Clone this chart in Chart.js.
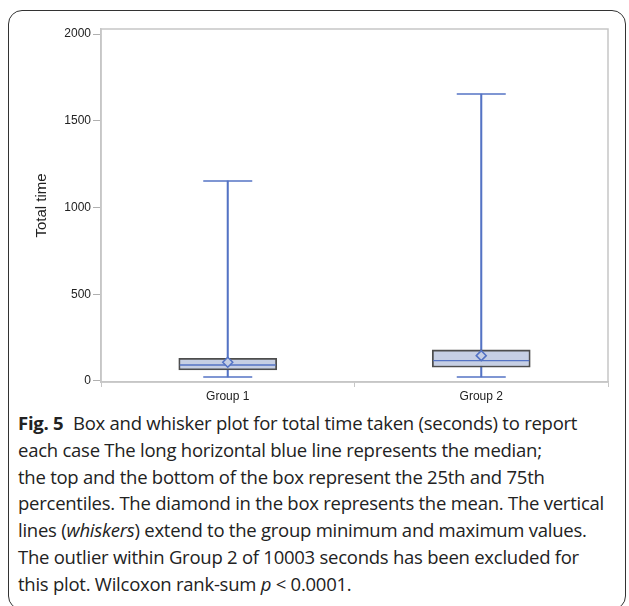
<!DOCTYPE html>
<html>
<head>
<meta charset="utf-8">
<script src="https://cdn.jsdelivr.net/npm/chart.js@4.4.0/dist/chart.umd.min.js"></script>
<style>
  html, body { margin: 0; padding: 0; background: #fff; }
  body { width: 629px; height: 606px; position: relative; overflow: hidden; }
  #frame { position: absolute; left: 8px; top: 10px; width: 618px; height: 600px;
    border: 1.5px solid #333; border-radius: 14px; box-sizing: border-box; }
  #wrap { position: absolute; left: 0; top: 0; width: 629px; height: 407px; }
  #caption { position: absolute; left: 18px; top: 410px; font-family: "Open Sans", sans-serif;
    font-size: 18.5px; line-height: 26.8px; color: #222; white-space: nowrap; letter-spacing: -0.25px; }
  #caption b { font-weight: 700; margin-right: 5px; }
</style>
</head>
<body>
<div id="frame"></div>
<div id="wrap"><canvas id="chart"></canvas></div>
<div id="caption">
<b>Fig. 5</b> Box and whisker plot for total time taken (seconds) to report<br>
each case The long horizontal blue line represents the median;<br>
the top and the bottom of the box represent the 25th and 75th<br>
percentiles. The diamond in the box represents the mean. The vertical<br>
lines (<i>whiskers</i>) extend to the group minimum and maximum values.<br>
The outlier within Group 2 of 10003 seconds has been excluded for<br>
this plot. Wilcoxon rank-sum <i>p</i> &lt; 0.0001.
</div>
<script>
// values (seconds)
const groups = ['Group 1', 'Group 2'];
const minVals = [23, 23];
const q1Vals = [63, 79];
const medianVals = [92, 117];
const q3Vals = [131, 179];
const maxVals = [1153, 1654];
const meanVals = [108, 146];
const yTicks = [0, 500, 1000, 1500, 2000];

const blue = '#5473c4';
const boxFill = '#c6cfe4';
const font = 'Liberation Sans, Arial, sans-serif';

// grey frame round the plot area
const plotFrame = {
  id: 'plotFrame',
  afterDraw(chart) {
    const a = chart.chartArea, ctx = chart.ctx;
    ctx.save();
    ctx.strokeStyle = '#c6c6c6';
    ctx.lineWidth = 1.5;
    ctx.strokeRect(a.left, a.top, a.right - a.left, a.bottom - a.top);
    ctx.restore();
  }
};

const ctx = document.getElementById('chart').getContext('2d');
new Chart(ctx, {
  data: {
    labels: groups,
    datasets: [
      {
        type: 'bar', label: 'whisker', order: 5, grouped: false,
        data: groups.map((_, i) => [minVals[i], maxVals[i]]),
        backgroundColor: blue, borderWidth: 0, barThickness: 1.4
      },
      {
        type: 'bar', label: 'box', order: 4, grouped: false,
        data: groups.map((_, i) => [q1Vals[i], q3Vals[i]]),
        backgroundColor: boxFill, borderColor: '#4d4d4d', borderWidth: 1.8,
        borderSkipped: false, barThickness: 98
      },
      {
        type: 'line', label: 'median', order: 2, showLine: false, data: medianVals,
        pointStyle: 'line', pointRadius: 48, pointBorderColor: blue, pointBorderWidth: 1.4
      },
      {
        type: 'line', label: 'max cap', order: 2, showLine: false, data: maxVals,
        pointStyle: 'line', pointRadius: 24.5, pointBorderColor: blue, pointBorderWidth: 1.4
      },
      {
        type: 'line', label: 'min cap', order: 2, showLine: false, data: minVals,
        pointStyle: 'line', pointRadius: 24.5, pointBorderColor: blue, pointBorderWidth: 1.4
      },
      {
        type: 'line', label: 'mean', order: 1, showLine: false, data: meanVals,
        pointStyle: 'rectRot', pointRadius: 5, pointBackgroundColor: boxFill,
        pointBorderColor: blue, pointBorderWidth: 1.5
      }
    ]
  },
  options: {
    responsive: true,
    maintainAspectRatio: false,
    animation: false,
    events: [],
    layout: { autoPadding: false, padding: { top: 29, right: 21, left: 0, bottom: 0 } },
    plugins: { legend: { display: false }, tooltip: { enabled: false } },
    scales: {
      x: {
        type: 'category', offset: true,
        grid: { drawOnChartArea: false, drawTicks: true, tickLength: 5, color: '#c6c6c6' },
        border: { color: '#c6c6c6', width: 1.5 },
        ticks: { color: '#222', font: { family: font, size: 12 }, padding: 2 },
        afterFit(scale) { scale.height = 25; }
      },
      y: {
        min: -6, max: 2029,
        afterBuildTicks(scale) { scale.ticks = yTicks.map(v => ({ value: v })); },
        grid: { drawOnChartArea: false, drawTicks: true, tickLength: 8, color: '#b0b0b0' },
        border: { color: '#c6c6c6', width: 1.5 },
        ticks: { color: '#222', font: { family: font, size: 12 }, padding: 2,
          callback: v => String(v) },
        title: {
          display: true, text: 'Total time', color: '#222',
          font: { family: font, size: 15 },
          padding: { top: 33, bottom: 0 }
        },
        afterFit(scale) { scale.width = 101; }
      }
    }
  },
  plugins: [plotFrame]
});
</script>
</body>
</html>
